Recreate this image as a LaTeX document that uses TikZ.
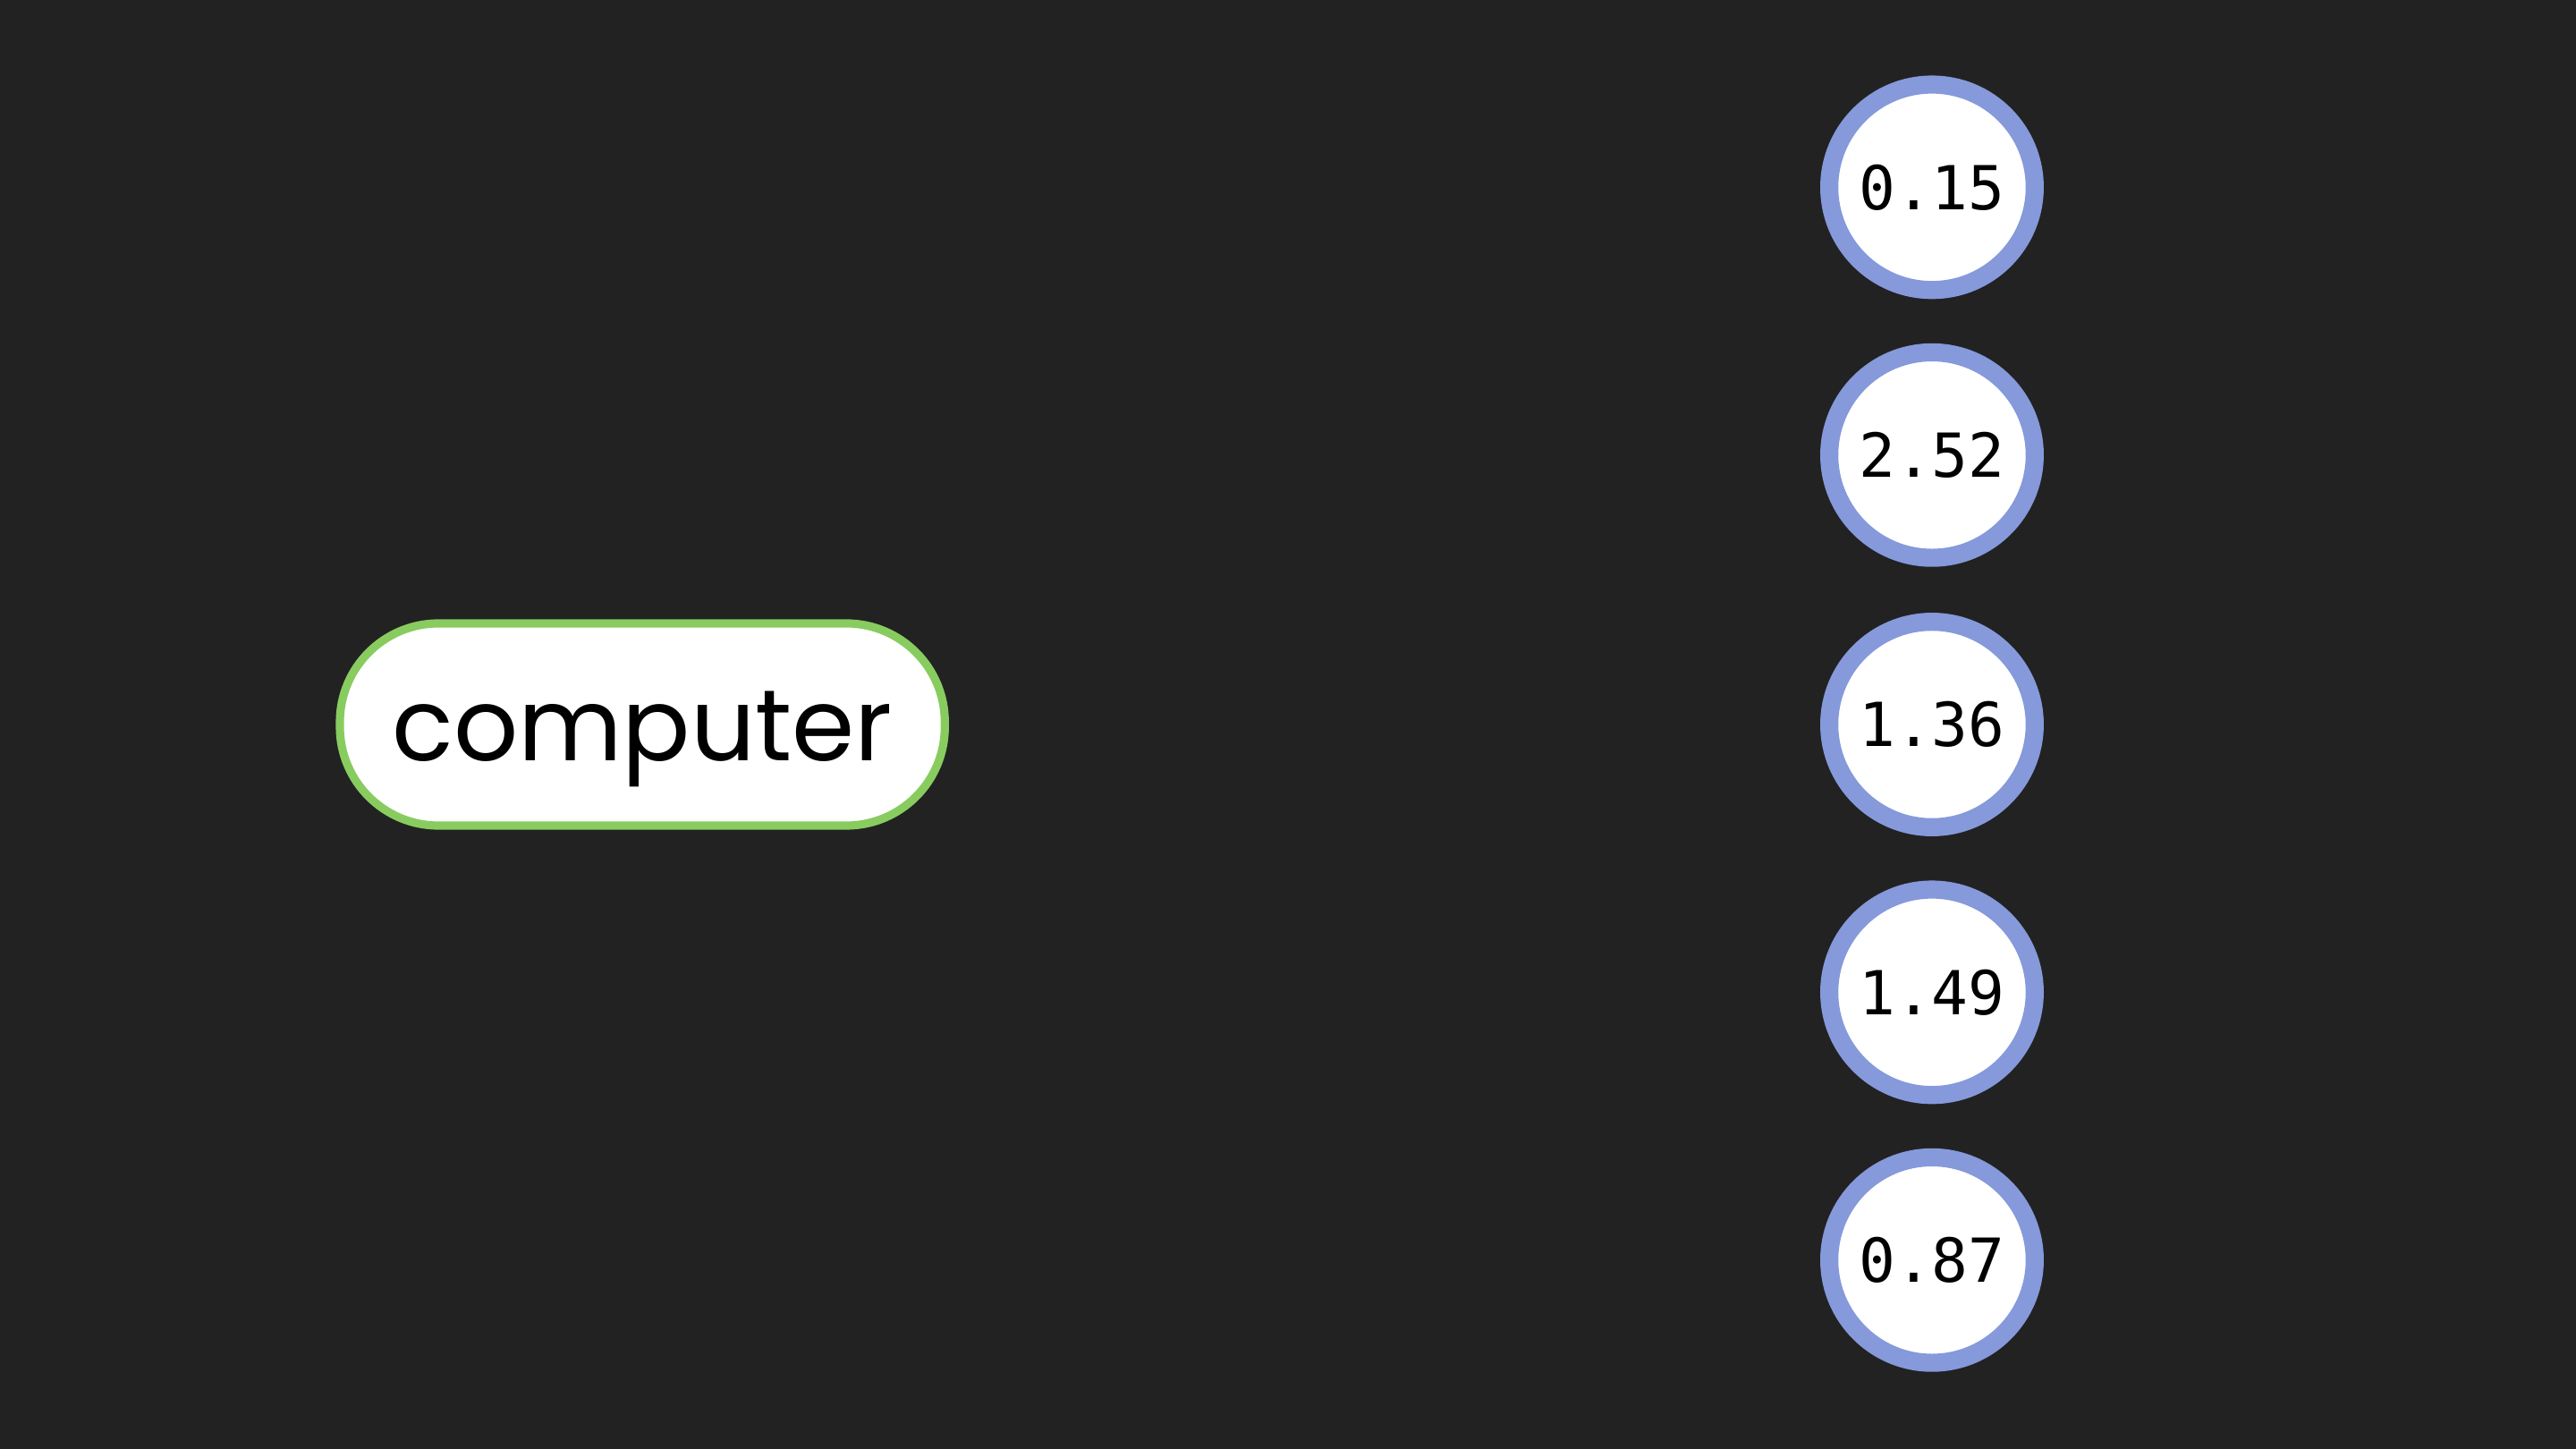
\documentclass[tikz,border=0pt]{standalone}
\usepackage{fontspec}
\setmainfont{Poppins}
\newfontfamily\monof{DejaVu Sans Mono}
\definecolor{bg}{HTML}{222222}
\definecolor{gr}{HTML}{88CC60}
\definecolor{bl}{HTML}{8599DB}
\tikzset{
 word/.style={draw=gr,fill=white,line width=0.05cm,rounded corners=0.6cm,minimum width=3.68cm,minimum height=1.23cm,inner sep=0pt,font=\fontsize{17.5}{21}\selectfont,text=black},
 val/.style={circle,draw=bl,fill=white,line width=0.11cm,minimum size=1.25cm,inner sep=0pt,font=\monof\fontsize{10.5}{12}\selectfont,text=black}
}
\begin{document}
\begin{tikzpicture}[x=0.01cm,y=-0.01cm]
\fill[bg] (0,0) rectangle (1568,882);
\useasboundingbox (0,0) rectangle (1568,882);
\node[word] (w) at (391,441) {};
\node[font=\fontsize{17.5}{21}\selectfont,text=black,inner sep=0pt] (wt) at (391,450) {computer};
\node[val] (a) at (1176,114) {0.15};
\node[val] (b) at (1176,277) {2.52};
\node[val] (c) at (1176,441) {1.36};
\node[val] (d) at (1176,604) {1.49};
\node[val] (e) at (1176,767) {0.87};
\end{tikzpicture}
\end{document}
